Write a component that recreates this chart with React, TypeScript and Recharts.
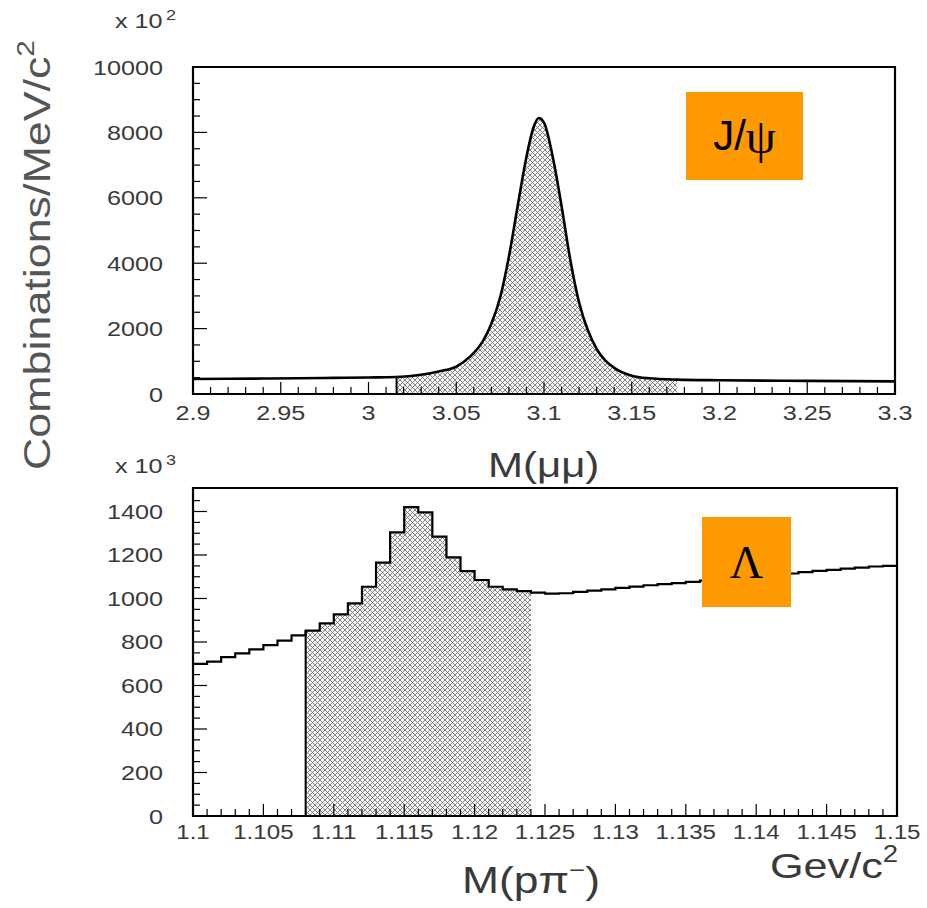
import React from 'react';
import { ComposedChart, Area, XAxis, YAxis, ReferenceLine, ReferenceArea } from 'recharts';

// top panel: M(mumu) spectrum, counts x 10^2 per MeV/c^2
const psiMass = [2.9, 2.92, 2.94, 2.96, 2.98, 3.0, 3.016, 3.03, 3.04, 3.05, 3.058, 3.065, 3.07, 3.075, 3.08, 3.085, 3.09, 3.094, 3.097, 3.1, 3.105, 3.11, 3.115, 3.12, 3.125, 3.13, 3.135, 3.14, 3.15, 3.16, 3.176, 3.2, 3.25, 3.3];
const psiCounts = [460, 465, 472, 480, 492, 505, 520, 590, 690, 840, 1150, 1600, 2150, 2950, 4200, 5750, 7250, 8150, 8440, 8300, 7250, 5750, 4100, 2800, 1950, 1380, 1020, 800, 560, 480, 440, 420, 400, 385];
const psiWindow = [3.016, 3.176];
const psiXLabels = ['2.9', '2.95', '3', '3.05', '3.1', '3.15', '3.2', '3.25', '3.3'];
const psiYLabels = ['0', '2000', '4000', '6000', '8000', '10000'];

// bottom panel: M(p pi-) histogram, 1 MeV bins, counts x 10^3
const lamBinLow = [
  1.1, 1.101, 1.102, 1.103, 1.104, 1.105, 1.106, 1.107, 1.108, 1.109,
  1.11, 1.111, 1.112, 1.113, 1.114, 1.115, 1.116, 1.117, 1.118, 1.119,
  1.12, 1.121, 1.122, 1.123, 1.124, 1.125, 1.126, 1.127, 1.128, 1.129,
  1.13, 1.131, 1.132, 1.133, 1.134, 1.135, 1.136, 1.137, 1.138, 1.139,
  1.14, 1.141, 1.142, 1.143, 1.144, 1.145, 1.146, 1.147, 1.148, 1.149,
];
const lamCounts = [
  699, 710, 730, 748, 766, 786, 806, 830, 852, 886,
  927, 978, 1054, 1165, 1304, 1420, 1396, 1284, 1189, 1126,
  1085, 1054, 1042, 1034, 1027, 1022, 1024, 1030, 1036, 1042,
  1049, 1055, 1061, 1066, 1071, 1076, 1082, 1087, 1092, 1097,
  1103, 1109, 1115, 1121, 1127, 1132, 1137, 1142, 1147, 1150,
];
const lamUpper = 1.15;
const lamWindow = [1.108, 1.124];
const lamXLabels = ['1.1', '1.105', '1.11', '1.115', '1.12', '1.125', '1.13', '1.135', '1.14', '1.145', '1.15'];
const lamYLabels = ['0', '200', '400', '600', '800', '1000', '1200', '1400'];

const FONT = '"Liberation Sans", Arial, Helvetica, sans-serif';
const INK = '#3a3a3a';

const psiData = psiMass.map((m, i) => ({
  m,
  y: psiCounts[i],
  shade: m >= psiWindow[0] - 1e-9 && m <= psiWindow[1] + 1e-9 ? psiCounts[i] : null,
}));

const lamData = [
  ...lamBinLow.map((m, i) => ({
    m,
    y: lamCounts[i],
    shade: m >= lamWindow[0] - 1e-9 && m < lamWindow[1] - 1e-9 ? lamCounts[i] : null,
  })),
  { m: lamUpper, y: lamCounts[lamCounts.length - 1], shade: null },
];
// close the shaded step at the upper window edge
const lamEnd = lamData.findIndex((d) => Math.abs(d.m - lamWindow[1]) < 1e-9);
lamData[lamEnd].shade = lamCounts[lamEnd - 1];

const steps = (from: number, to: number, step: number) => {
  const out: number[] = [];
  for (let v = from; v <= to + step / 2; v += step) out.push(Math.round(v * 10000) / 10000);
  return out;
};

const findMajor = (labels: string[], v: number) => labels.findIndex((l) => Math.abs(Number(l) - v) < 1e-7);

const xTick = (labels: string[], dy: number, sx: number) => (props: any) => {
  const { x, y, payload } = props;
  const i = findMajor(labels, payload.value);
  return (
    <g>
      <line x1={x} x2={x} y1={y} y2={y - (i >= 0 ? 12 : 7)} stroke="#000" strokeWidth={1.2} />
      {i >= 0 && (
        <text transform={`translate(${x},${y + dy}) scale(${sx},1)`} textAnchor="middle" fontSize={21} fill={INK} fontFamily={FONT}>
          {labels[i]}
        </text>
      )}
    </g>
  );
};

const yTick = (labels: string[]) => (props: any) => {
  const { x, y, payload } = props;
  const i = findMajor(labels, payload.value);
  return (
    <g>
      <line x1={x} x2={x + (i >= 0 ? 14 : 7)} y1={y} y2={y} stroke="#000" strokeWidth={1.2} />
      {i >= 0 && (
        <text transform={`translate(${x - 30},${y + 7.5}) scale(1.2,1)`} textAnchor="end" fontSize={21} fill={INK} fontFamily={FONT}>
          {labels[i]}
        </text>
      )}
    </g>
  );
};

const Hatch = () => (
  <defs>
    <pattern id="hatch" width="5" height="5" patternUnits="userSpaceOnUse">
      <rect width="5" height="5" fill="#f6f6f6" />
      <path d="M0,0 L5,5 M5,0 L0,5" stroke="#707070" strokeWidth={0.85} />
    </pattern>
  </defs>
);

const tag: React.CSSProperties = {
  position: 'absolute',
  background: '#ff9900',
  display: 'flex',
  alignItems: 'center',
  justifyContent: 'center',
  color: '#000',
};

export default function App() {
  const psiVert = psiCounts[psiMass.indexOf(psiWindow[0])];
  const lamVert = lamCounts[lamBinLow.indexOf(lamWindow[0])];
  return (
    <div style={{ position: 'absolute', left: 0, top: 0, width: 927, height: 908, background: '#fff' }}>
      <div style={{ position: 'absolute', left: 0, top: 0 }}>
        <ComposedChart width={927} height={440} data={psiData} margin={{ top: 67, right: 32, bottom: 16, left: 133 }}>
          <Hatch />
          <XAxis
            dataKey="m"
            type="number"
            domain={[2.9, 3.3]}
            allowDataOverflow
            ticks={steps(2.9, 3.3, 0.01)}
            interval={0}
            tickSize={0}
            tickMargin={0}
            tickLine={false}
            axisLine={false}
            height={30}
            tick={xTick(psiXLabels, 26, 1.2)}
          />
          <YAxis
            type="number"
            domain={[0, 10000]}
            allowDataOverflow
            ticks={steps(0, 10000, 500)}
            interval={0}
            tickSize={0}
            tickMargin={0}
            tickLine={false}
            axisLine={false}
            width={60}
            tick={yTick(psiYLabels)}
          />
          <Area type="monotone" dataKey="shade" stroke="none" fill="url(#hatch)" fillOpacity={1} isAnimationActive={false} />
          <Area type="monotone" dataKey="y" stroke="#000" strokeWidth={2.6} fill="none" isAnimationActive={false} />
          <ReferenceLine segment={[{ x: psiWindow[0], y: 0 }, { x: psiWindow[0], y: psiVert }]} stroke="#000" strokeWidth={2} />
          <ReferenceArea x1={2.9} x2={3.3} y1={0} y2={10000} fill="none" stroke="#000" strokeWidth={2.2} />
        </ComposedChart>
      </div>

      <div style={{ position: 'absolute', left: 0, top: 440 }}>
        <ComposedChart width={927} height={440} data={lamData} margin={{ top: 48, right: 30, bottom: 34, left: 133 }}>
          <Hatch />
          <XAxis
            dataKey="m"
            type="number"
            domain={[1.1, 1.15]}
            allowDataOverflow
            ticks={steps(1.1, 1.15, 0.001)}
            interval={0}
            tickSize={0}
            tickMargin={0}
            tickLine={false}
            axisLine={false}
            height={30}
            tick={xTick(lamXLabels, 23, 1.15)}
          />
          <YAxis
            type="number"
            domain={[0, 1508]}
            allowDataOverflow
            ticks={steps(0, 1450, 50)}
            interval={0}
            tickSize={0}
            tickMargin={0}
            tickLine={false}
            axisLine={false}
            width={60}
            tick={yTick(lamYLabels)}
          />
          <Area type="stepAfter" dataKey="shade" stroke="none" fill="url(#hatch)" fillOpacity={1} isAnimationActive={false} />
          <Area type="stepAfter" dataKey="y" stroke="#000" strokeWidth={2.2} fill="none" isAnimationActive={false} />
          <ReferenceLine segment={[{ x: lamWindow[0], y: 0 }, { x: lamWindow[0], y: lamVert }]} stroke="#000" strokeWidth={2} />
          <ReferenceArea x1={1.1} x2={1.15} y1={0} y2={1508} fill="none" stroke="#000" strokeWidth={2.2} />
        </ComposedChart>
      </div>

      <svg width={927} height={908} style={{ position: 'absolute', left: 0, top: 0, pointerEvents: 'none' }} fontFamily={FONT} fill={INK}>
        <text transform="translate(115,28) scale(1.2,1)" fontSize={21}>x 10</text>
        <text transform="translate(166,20) scale(1.2,1)" fontSize={15}>2</text>
        <text transform="translate(115,473) scale(1.2,1)" fontSize={21}>x 10</text>
        <text transform="translate(166,465) scale(1.2,1)" fontSize={15}>3</text>
        <text transform="translate(50,470) rotate(-90)" fontSize={36} fill="#555" textLength={430} lengthAdjust="spacingAndGlyphs">
          Combinations/MeV/c<tspan dy={-16} fontSize={24}>2</tspan>
        </text>
        <text transform="translate(488,477) scale(1.2,1)" fontSize={35}>M(μμ)</text>
        <text transform="translate(462,893) scale(1.2,1)" fontSize={37}>
          M(pπ<tspan dy={-15} fontSize={23}>−</tspan><tspan dy={15}>)</tspan>
        </text>
        <text transform="translate(770,878) scale(1.2,1)" fontSize={36}>
          Gev/c<tspan dy={-16} fontSize={23}>2</tspan>
        </text>
      </svg>

      <div style={{ ...tag, left: 686, top: 92, width: 117, height: 88 }}>
        <span style={{ fontFamily: FONT, fontSize: 42 }}>J/</span>
        <span style={{ fontFamily: '"Liberation Serif", serif', fontSize: 48 }}>ψ</span>
      </div>
      <div style={{ ...tag, left: 702, top: 517, width: 89, height: 90 }}>
        <span style={{ fontFamily: '"Liberation Serif", serif', fontSize: 46 }}>Λ</span>
      </div>
    </div>
  );
}
